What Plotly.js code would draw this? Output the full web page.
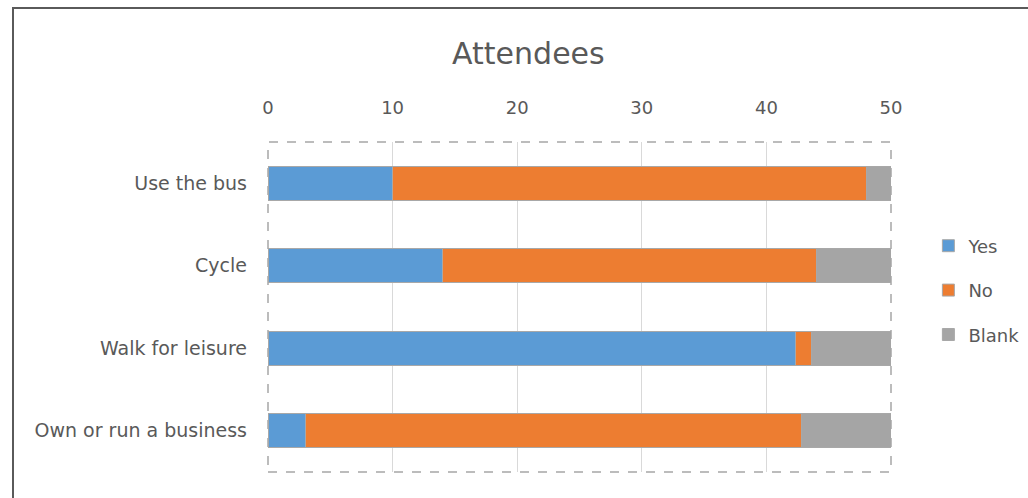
<!DOCTYPE html>
<html>
<head>
<meta charset="utf-8">
<script src="https://cdn.plot.ly/plotly-3.0.1.min.js"></script>
<style>
  html, body { margin: 0; padding: 0; background: #fff; }
  #wrap { position: relative; width: 1028px; height: 498px; overflow: hidden; }
  #chart { position: absolute; left: 0; top: 0; width: 1028px; height: 498px; }
  #frame { position: absolute; left: 12px; top: 7px; width: 1100px; height: 600px;
           border: 2px solid #5a5a5a; pointer-events: none; box-sizing: border-box; }
</style>
</head>
<body>
<div id="wrap">
  <div id="chart"></div>
  <div id="frame"></div>
</div>
<script>
const categories = ["Use the bus", "Cycle", "Walk for leisure", "Own or run a business"];
const yesValues = [10, 14, 42.3, 3];
const noValues = [38, 30, 1.3, 39.8];
const blankValues = [2, 6, 6.4, 7.2];
const seriesNames = ["Yes", "No", "Blank"];
const seriesColors = ["#5B9BD5", "#ED7D31", "#A5A5A5"];
const xTicks = [0, 10, 20, 30, 40, 50];

const seriesValues = [yesValues, noValues, blankValues];
const textColor = "#595959";
const font = "'DejaVu Sans', 'Noto Sans', sans-serif";

const traces = seriesValues.map((vals, i) => ({
  type: "bar",
  orientation: "h",
  name: seriesNames[i],
  legendgroup: "g" + i,
  x: vals,
  y: categories,
  marker: { color: seriesColors[i], line: { color: "#a8a8a8", width: 1 } },
  hoverinfo: "x+y+name"
}));

const layout = {
  width: 1028,
  height: 498,
  barmode: "stack",
  bargap: 0.59,
  paper_bgcolor: "rgba(0,0,0,0)",
  plot_bgcolor: "#ffffff",
  margin: { l: 268, r: 137, t: 142, b: 26, pad: 0, autoexpand: false },
  title: {
    text: "Attendees",
    font: { family: font, size: 30, color: textColor },
    x: 0.514, xanchor: "center",
    y: 0.893, yanchor: "middle"
  },
  font: { family: font, color: textColor, size: 18 },
  xaxis: {
    side: "top",
    range: [0, 50],
    tickvals: xTicks,
    ticktext: xTicks.map(String),
    showgrid: true,
    gridcolor: "#d9d9d9",
    gridwidth: 1,
    zeroline: false,
    showline: false,
    ticks: "",
    ticklabelstandoff: 23,
    tickfont: { family: font, size: 18, color: textColor },
    fixedrange: true
  },
  yaxis: {
    type: "category",
    categoryorder: "array",
    categoryarray: categories,
    autorange: "reversed",
    showgrid: false,
    zeroline: false,
    showline: false,
    ticks: "",
    ticklabelstandoff: 20,
    tickfont: { family: font, size: 19, color: textColor },
    fixedrange: true
  },
  legend: {
    x: 1.06, xanchor: "left",
    y: 0.55, yanchor: "middle",
    font: { family: font, size: 18, color: textColor },
    tracegroupgap: 18,
    bgcolor: "rgba(0,0,0,0)"
  },
  shapes: [{
    type: "rect", xref: "paper", yref: "paper",
    x0: 0, x1: 1, y0: 0, y1: 1,
    line: { color: "#a6a6a6", width: 1.5, dash: "dash" },
    layer: "below"
  }]
};

Plotly.newPlot("chart", traces, layout, { displayModeBar: false, staticPlot: true });
</script>
</body>
</html>
